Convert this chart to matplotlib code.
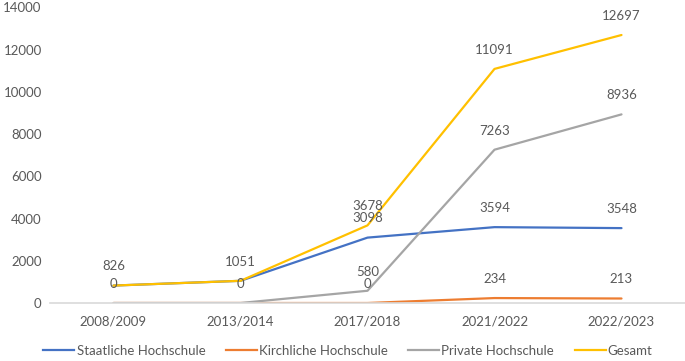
import matplotlib
matplotlib.use("Agg")
import matplotlib.pyplot as plt
from matplotlib.lines import Line2D

categories = ["2008/2009", "2013/2014", "2017/2018", "2021/2022", "2022/2023"]
staatliche = [826, 1051, 3098, 3594, 3548]
kirchliche = [0, 0, 0, 234, 213]
private = [0, 0, 580, 7263, 8936]
gesamt = [826, 1051, 3678, 11091, 12697]

series = [
    ("Staatliche Hochschule", staatliche, "#4472C4"),
    ("Kirchliche Hochschule", kirchliche, "#ED7D31"),
    ("Private Hochschule", private, "#A5A5A5"),
    ("Gesamt", gesamt, "#FFC000"),
]

plt.rcParams['font.family'] = ['Lato', 'DejaVu Sans']
text_color = "#595959"

fig = plt.figure(figsize=(6.85, 3.61), dpi=100)
ax = fig.add_axes([50/685, (361-303)/361, 635/685, (303-7.5)/361])

x = list(range(len(categories)))
for name, vals, col in series:
    ax.plot(x, vals, color=col, lw=1.6, solid_capstyle='round', label=name)

seen = set()
for name, vals, col in series:
    for xi, v in zip(x, vals):
        if (xi, v) in seen:
            continue
        seen.add((xi, v))
        ax.annotate(str(v), (xi, v), xytext=(0, 13.8), textcoords='offset points',
                    ha='center', va='center', fontsize=9.5, color=text_color)

ax.set_xlim(-0.5, len(categories) - 0.5)
ax.set_ylim(0, 14000)
ax.set_yticks(range(0, 14001, 2000))
ax.set_xticks(x)
ax.set_xticklabels(categories)
ax.tick_params(axis='both', length=0, labelsize=9.5, colors=text_color)
ax.tick_params(axis='x', pad=9)
ax.tick_params(axis='y', pad=6)
for s in ['top', 'right', 'left']:
    ax.spines[s].set_visible(False)
ax.spines['bottom'].set_color("#D9D9D9")
ax.spines['bottom'].set_linewidth(1.2)

handles = [Line2D([0], [0], color=c, lw=1.6) for _, _, c in series]
labels = [n for n, _, _ in series]
fig.legend(handles, labels, loc='center', bbox_to_anchor=(348/685, 1 - 351/361), ncol=4,
           frameon=False, fontsize=9.5, labelcolor=text_color, handlelength=2.35,
           handletextpad=0.16, columnspacing=1.55, borderpad=0, borderaxespad=0)

fig.savefig("out.png", dpi=100)
